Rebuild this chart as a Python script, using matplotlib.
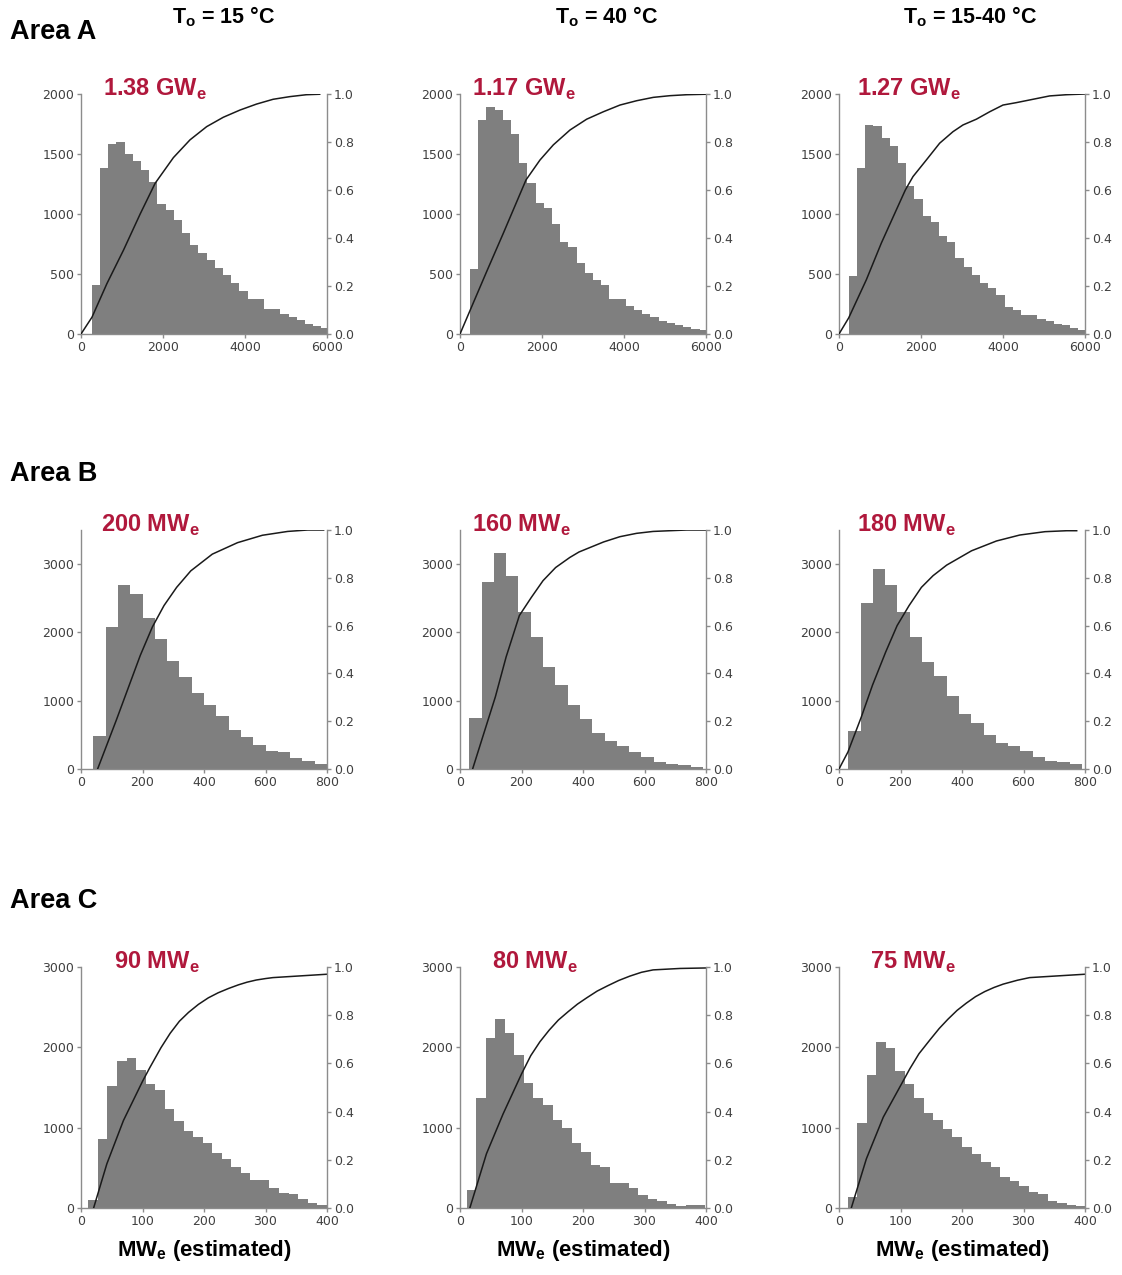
import numpy as np
import matplotlib
matplotlib.use("Agg")
import matplotlib.pyplot as plt

plt.rcParams['font.family'] = ['DejaVu Sans']
plt.rcParams['mathtext.fontset'] = 'custom'
plt.rcParams['mathtext.rm'] = 'Liberation Sans'
plt.rcParams['mathtext.bf'] = 'Liberation Sans:bold'

# Titulos
area_labels = ["Area A", "Area B", "Area C"]
col_titles = [r"T$_\mathbf{o}$ = 15 °C", r"T$_\mathbf{o}$ = 40 °C", r"T$_\mathbf{o}$ = 15-40 °C"]
estimates = [["1.38 GW", "1.17 GW", "1.27 GW"],
             ["200 MW", "160 MW", "180 MW"],
             ["90 MW", "80 MW", "75 MW"]]
x_label = r"MW$_\mathbf{e}$ (estimated)"

# Eixos por linha (Area A, B, C)
x_max = [6000, 800, 400]
x_ticks = [[0, 2000, 4000, 6000], [0, 200, 400, 600, 800], [0, 100, 200, 300, 400]]
y_max = [2000, 3500, 3000]
y_ticks = [[0, 500, 1000, 1500, 2000], [0, 1000, 2000, 3000], [0, 1000, 2000, 3000]]

# --- Area A ---
a1_start, a1_width = 265, 200
a1_counts = [410, 1380, 1580, 1600, 1500, 1440, 1370, 1270, 1085, 1035, 950, 840, 745, 675, 620,
             550, 495, 425, 355, 290, 290, 210, 210, 165, 140, 115, 85, 65, 50]
a1_cum_x = [0, 268, 632, 1038, 1443, 1808, 2254, 2659, 3065, 3470, 3876, 4281, 4686, 5092, 5497, 5822]
a1_cum_y = [0, 0.07, 0.21, 0.35, 0.50, 0.628, 0.735, 0.809, 0.864, 0.903, 0.933, 0.958, 0.978, 0.989, 0.997, 0.999]

a2_start, a2_width = 245, 200
a2_counts = [540, 1785, 1890, 1870, 1785, 1665, 1425, 1255, 1090, 1050, 920, 770, 725, 595, 510,
             450, 410, 290, 295, 230, 200, 165, 140, 110, 92, 78, 58, 42, 31]
a2_cum_x = [0, 650, 1057, 1610, 1951, 2276, 2683, 3089, 3496, 3902, 4309, 4715, 5122, 5528, 6000]
a2_cum_y = [0, 0.26, 0.42, 0.642, 0.725, 0.788, 0.85, 0.895, 0.926, 0.954, 0.972, 0.986, 0.993, 0.997, 0.999]

a3_start, a3_width = 240, 200
a3_counts = [485, 1380, 1740, 1735, 1630, 1565, 1425, 1230, 1125, 985, 930, 820, 765, 630, 560,
             495, 425, 385, 325, 225, 200, 160, 155, 125, 110, 86, 72, 50, 36]
a3_cum_x = [0, 236, 667, 1033, 1398, 1618, 1805, 2130, 2455, 2780, 3024, 3350, 3675, 4000, 4325,
            4732, 5138, 5545, 6000]
a3_cum_y = [0, 0.067, 0.226, 0.379, 0.517, 0.60, 0.656, 0.725, 0.795, 0.843, 0.871, 0.895, 0.926,
            0.954, 0.964, 0.978, 0.992, 0.997, 1.0]

# --- Area B ---
b1_start, b1_width = 40, 40
b1_counts = [480, 2075, 2700, 2560, 2210, 1905, 1585, 1345, 1110, 930, 770, 575, 465, 355, 270,
             250, 160, 120, 75]
b1_cum_x = [54, 115, 159, 193, 232, 270, 311, 357, 427, 509, 590, 672, 737, 789]
b1_cum_y = [0, 0.205, 0.358, 0.476, 0.594, 0.684, 0.76, 0.829, 0.899, 0.947, 0.978, 0.994, 1.0, 1.0]

b2_start, b2_width = 30, 40
b2_counts = [745, 2745, 3160, 2830, 2300, 1940, 1490, 1235, 930, 735, 525, 415, 330, 250, 170,
             100, 75, 55, 30]
b2_cum_x = [41, 76, 115, 150, 193, 232, 270, 311, 357, 387, 467, 520, 574, 628, 737, 800]
b2_cum_y = [0, 0.143, 0.302, 0.469, 0.642, 0.718, 0.788, 0.843, 0.885, 0.908, 0.95, 0.972, 0.986,
            0.994, 1.0, 1.0]

b3_start, b3_width = 30, 40
b3_counts = [560, 2430, 2925, 2700, 2300, 1940, 1565, 1355, 1075, 805, 675, 500, 380, 330, 260,
             170, 120, 100, 75]
b3_cum_x = [0, 29, 73, 109, 152, 189, 228, 268, 306, 350, 431, 512, 588, 670, 741, 773]
b3_cum_y = [0, 0.071, 0.219, 0.351, 0.49, 0.60, 0.684, 0.76, 0.809, 0.853, 0.913, 0.954, 0.979,
            0.993, 0.997, 0.997]

# --- Area C ---
c1_start, c1_width = 12, 15.5
c1_counts = [95, 855, 1520, 1835, 1865, 1720, 1545, 1475, 1230, 1085, 960, 880, 810, 680, 605,
             510, 435, 345, 345, 255, 185, 170, 115, 60, 35]
c1_cum_x = [20.5, 42, 69, 100.5, 112, 130, 145, 160, 175, 191, 207, 223, 240, 256, 270, 285, 300, 312, 400]
c1_cum_y = [0, 0.183, 0.363, 0.528, 0.583, 0.665, 0.725, 0.775, 0.812, 0.845, 0.872, 0.893, 0.911,
            0.926, 0.937, 0.946, 0.952, 0.956, 0.97]

c2_start, c2_width = 11, 15.5
c2_counts = [220, 1365, 2115, 2355, 2175, 1905, 1550, 1365, 1280, 1095, 990, 805, 700, 540, 510,
             315, 310, 255, 165, 115, 85, 55, 20, 40, 40]
c2_cum_x = [16, 43, 70, 100, 115, 130, 145, 160, 176, 191, 206, 223, 240, 258, 276, 295, 314, 358, 400]
c2_cum_y = [0, 0.225, 0.39, 0.556, 0.632, 0.69, 0.738, 0.78, 0.815, 0.846, 0.872, 0.9, 0.922, 0.944,
            0.962, 0.978, 0.988, 0.994, 0.996]

c3_start, c3_width = 14, 15.5
c3_counts = [135, 1060, 1655, 2070, 1990, 1710, 1545, 1365, 1185, 1095, 980, 880, 760, 670, 575,
             505, 385, 335, 270, 200, 170, 85, 60, 35, 25]
c3_cum_x = [20, 44.5, 72, 103, 115, 130, 148, 163, 177, 192, 207, 222, 237, 252, 267, 290, 310, 400]
c3_cum_y = [0, 0.204, 0.377, 0.521, 0.577, 0.64, 0.698, 0.745, 0.783, 0.82, 0.85, 0.877, 0.898,
            0.915, 0.929, 0.945, 0.956, 0.97]

panels = [
    [(a1_start, a1_width, a1_counts, a1_cum_x, a1_cum_y),
     (a2_start, a2_width, a2_counts, a2_cum_x, a2_cum_y),
     (a3_start, a3_width, a3_counts, a3_cum_x, a3_cum_y)],
    [(b1_start, b1_width, b1_counts, b1_cum_x, b1_cum_y),
     (b2_start, b2_width, b2_counts, b2_cum_x, b2_cum_y),
     (b3_start, b3_width, b3_counts, b3_cum_x, b3_cum_y)],
    [(c1_start, c1_width, c1_counts, c1_cum_x, c1_cum_y),
     (c2_start, c2_width, c2_counts, c2_cum_x, c2_cum_y),
     (c3_start, c3_width, c3_counts, c3_cum_x, c3_cum_y)],
]

W, H = 1122, 1275
fig = plt.figure(figsize=(W / 100, H / 100), dpi=100)

col_left = [81, 460, 839]
row_top = [94, 530, 967]
row_bottom = [334, 769, 1208]
ax_w = 246
label_x = [[0.09, 0.05, 0.073], [0.081, 0.05, 0.073], [0.134, 0.13, 0.126]]

spine_color = "#8c8c8c"
tick_color = "#404040"
red = "#b0183c"

for r in range(3):
    for c in range(3):
        start, width, counts, cx, cy = panels[r][c]
        left = col_left[c] / W
        bottom = 1 - row_bottom[r] / H
        height = (row_bottom[r] - row_top[r]) / H
        ax = fig.add_axes([left, bottom, ax_w / W, height])
        edges = start + width * np.arange(len(counts))
        ax.bar(edges, counts, width=width, align="edge", color="#7f7f7f", linewidth=0)
        ax.set_xlim(0, x_max[r])
        ax.set_ylim(0, y_max[r])
        ax.set_xticks(x_ticks[r])
        ax.set_yticks(y_ticks[r])

        tw = ax.twinx()
        tw.plot(cx, cy, color="#1a1a1a", linewidth=1.1)
        tw.set_ylim(0, 1.0)
        tw.set_yticks([0, 0.2, 0.4, 0.6, 0.8, 1.0])
        tw.set_yticklabels(["0.0", "0.2", "0.4", "0.6", "0.8", "1.0"])

        for a in (ax, tw):
            a.spines["top"].set_visible(False)
            for s in ("left", "right", "bottom"):
                a.spines[s].set_color(spine_color)
                a.spines[s].set_linewidth(1.0)
            a.tick_params(colors=spine_color, labelcolor=tick_color, labelsize=9,
                          length=3, width=1, pad=2)
        ax.spines["right"].set_visible(False)
        tw.spines["left"].set_visible(False)
        tw.spines["bottom"].set_visible(False)

        ax.text(label_x[r][c], 1.02, estimates[r][c] + r"$_\mathbf{e}$", transform=ax.transAxes,
                color=red, fontsize=17, fontweight="bold", family="Liberation Sans",
                ha="left", va="center")

        if r == 2:
            ax.set_xlabel(x_label, fontsize=16, fontweight="bold", family="Liberation Sans",
                          labelpad=7)

for r in range(3):
    y = [32, 474, 901][r]
    fig.text(10 / W, 1 - y / H, area_labels[r], fontsize=19.5, fontweight="bold",
             family="Liberation Sans", ha="left", va="center")

for c in range(3):
    x = [224, 607, 970][c]
    fig.text(x / W, 1 - 17 / H, col_titles[c], fontsize=15.5, fontweight="bold",
             family="Liberation Sans", ha="center", va="center")

fig.savefig("out.png", dpi=100, facecolor="white")
